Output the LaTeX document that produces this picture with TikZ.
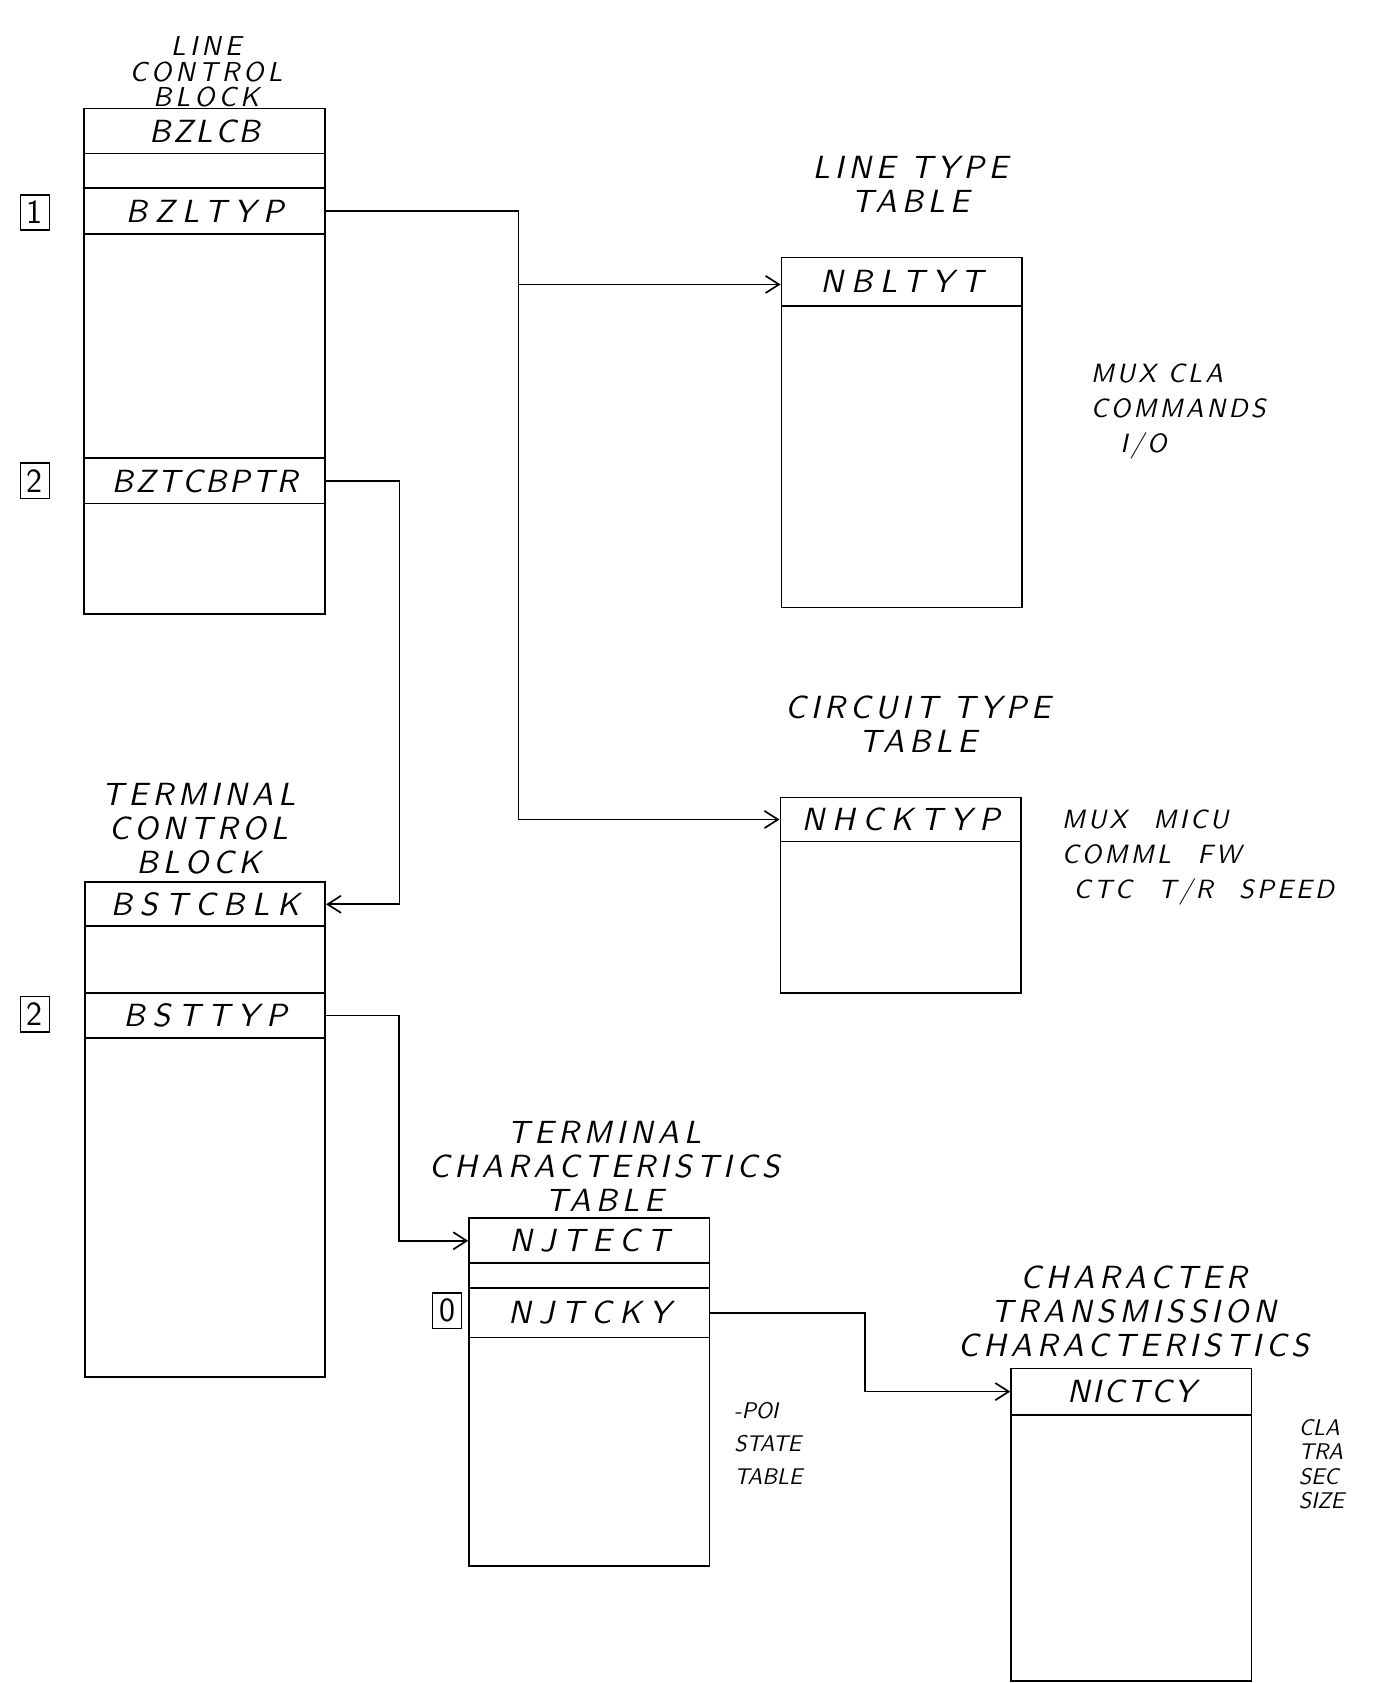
\documentclass[tikz,border=0pt]{standalone}
\usepackage{fontspec}
\usetikzlibrary{arrows.meta, positioning}

\newfontfamily\handfont{lmsans10-oblique.otf}[LetterSpace=15]
\newfontfamily\fldfont{lmsans10-oblique.otf}[LetterSpace=24]
\newfontfamily\tightfont{lmsans10-oblique.otf}[LetterSpace=8]
\newfontfamily\notefont{lmsans10-oblique.otf}[LetterSpace=12]

\tikzset{
  hand/.style={font=\fontsize{17}{18}\selectfont\handfont},
  tbl/.style={draw, line width=0.9pt, minimum width=4.48cm, inner sep=0pt},
  fld/.style={tbl, font=\fontsize{17}{18}\selectfont\fldfont},
  fldtight/.style={tbl, font=\fontsize{17}{18}\selectfont\tightfont},
  tagbox/.style={draw, line width=0.8pt, minimum width=0.54cm, minimum height=0.66cm, inner sep=0pt, font=\fontsize{18}{18}\selectfont\sffamily},
  heading/.style={hand, align=center},
  notes/.style={font=\fontsize{14}{18.5}\selectfont\notefont, align=left, anchor=west},
  ptr/.style={line width=0.9pt, -{Straight Barb[length=2.5mm, width=3.2mm]}},
}

\begin{document}
\begin{tikzpicture}[x=0.02cm, y=-0.02cm]
\useasboundingbox (0,0) rectangle (1282,1568);

% Line control block
\node[heading, font=\fontsize{14.5}{13.5}\selectfont\handfont] (lcbt) at (192,67) {LINE\\CONTROL\\BLOCK};
\node[tbl, minimum height=9.42cm] (lcb) at (190.5,336.5) {};
\node[fldtight, minimum height=0.84cm] (bzlcb) at (190.5,122) {BZLCB};
\node[fld, minimum height=0.86cm] (bzltyp) at (190.5,196.5) {BZLTYP};
\node[fldtight, minimum height=0.84cm] (bztcbptr) at (190.5,448) {BZTCBPTR};
\node[tagbox] (m1) at (32.5,198) {1};
\node[tagbox] (m2) at (32.5,448) {2};

% Line type table
\node[heading] (lttt) at (848,172) {LINE TYPE\\TABLE};
\node[tbl, minimum height=6.52cm] (ltt) at (840,403) {};
\node[fld, minimum height=0.9cm] (nbltyt) at (840,262.5) {NBLTYT};
\node[notes] (lttn) at (1010,383) {MUX CLA\\COMMANDS\\\hspace{0.55cm}I/O};

% Circuit type table
\node[heading] (cttt) at (855,674.5) {CIRCUIT TYPE\\TABLE};
\node[tbl, minimum height=3.64cm] (ctt) at (839,834) {};
\node[fld, minimum height=0.82cm] (nhcktyp) at (839,763.5) {NHCKTYP};
\node[notes] (cttn) at (983,799) {MUX\quad MICU\\COMML\quad FW\\\ CTC\quad T/R\quad SPEED};

% Terminal control block
\node[heading] (tcbt) at (185,772) {TERMINAL\\CONTROL\\BLOCK};
\node[tbl, minimum height=9.22cm] (tcb) at (191,1052.5) {};
\node[fld, minimum height=0.82cm] (bstcblk) at (191,842.5) {BSTCBLK};
\node[fld, minimum height=0.84cm] (bsttyp) at (191,946) {BSTTYP};
\node[tagbox] (m3) at (32.5,945) {2};

% Terminal characteristics table
\node[heading] (tctt) at (563,1087) {TERMINAL\\CHARACTERISTICS\\TABLE};
\node[tbl, minimum height=6.48cm] (tct) at (549,1297) {};
\node[fld, minimum height=0.84cm] (njtect) at (549,1156) {NJTECT};
\node[fld, minimum height=0.92cm] (njtcky) at (549,1223) {NJTCKY};
\node[tagbox] (m0) at (416.5,1221) {0};
\node[notes, font=\fontsize{12}{17.5}\selectfont\sffamily\itshape] (tctn) at (678,1345) {-POI\\STATE\\TABLE};

% Character transmission characteristics
\node[heading] (ctct) at (1056,1222) {CHARACTER\\TRANSMISSION\\CHARACTERISTICS};
\node[tbl, minimum height=5.82cm] (ctc) at (1054,1420.5) {};
\node[fldtight, minimum height=0.86cm] (nictcy) at (1054,1296.5) {NICTCY};
\node[notes, font=\fontsize{12}{13}\selectfont\sffamily\itshape] (ctcn) at (1204,1364) {CLA\\TRA\\SEC\\SIZE};

% Pointers
\coordinate (split) at (483,265);
\draw[line width=0.9pt] (bzltyp.east) -| (split);
\draw[ptr] (split) -- (split -| nbltyt.west);
\draw[ptr] (split) |- (nhcktyp.west);
\draw[ptr] (bztcbptr.east) -- ++(69,0) |- (bstcblk.east);
\draw[ptr] (bsttyp.east) -- ++(68,0) |- (njtect.west);
\draw[ptr] (njtcky.east) -- ++(144,0) |- (nictcy.west);

\end{tikzpicture}
\end{document}
